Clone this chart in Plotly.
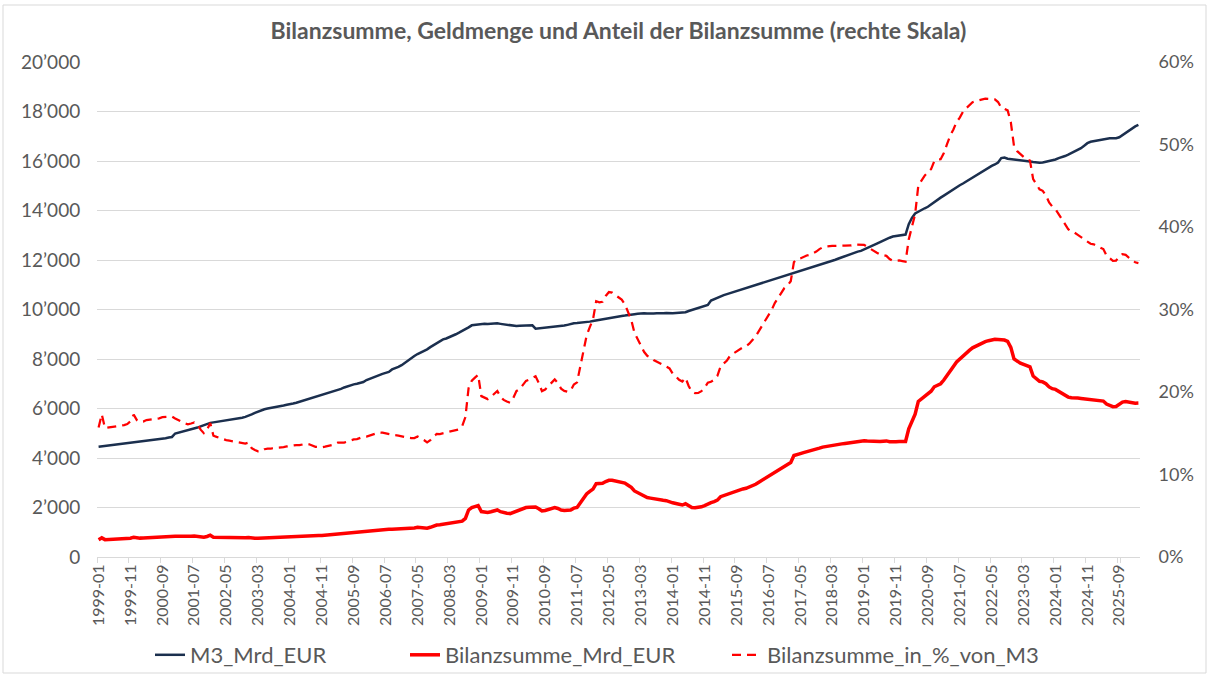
import pandas as pd
import plotly.graph_objects as go

# ---------------- data (monthly, 1999-01 .. 2026-03) ----------------
m3_mrd_eur = [
    4454, 4470, 4490, 4505, 4530, 4550, 4565, 4580, 4595, 4605, 4620, 4635,          # 1999
    4640, 4660, 4690, 4700, 4720, 4740, 4755, 4760, 4780, 4800, 4830, 4850,          # 2000
    4990, 5020, 5060, 5090, 5120, 5160, 5200, 5230, 5280, 5330, 5380, 5420,          # 2001
    5440, 5460, 5480, 5500, 5520, 5530, 5550, 5570, 5600, 5630, 5660, 5700,          # 2002
    5760, 5820, 5880, 5930, 5970, 6000, 6020, 6050, 6080, 6100, 6120, 6150,          # 2003
    6165, 6200, 6230, 6270, 6300, 6330, 6370, 6400, 6440, 6480, 6530, 6580,          # 2004
    6620, 6650, 6700, 6740, 6790, 6850, 6900, 6940, 6975, 7000, 7030, 7070,          # 2005
    7150, 7205, 7250, 7300, 7350, 7400, 7440, 7480, 7580, 7620, 7680, 7750,          # 2006
    7850, 7950, 8054, 8120, 8200, 8260, 8320, 8390, 8480, 8560, 8650, 8720,          # 2007
    8795, 8830, 8880, 8950, 9000, 9065, 9130, 9200, 9280, 9361, 9380, 9400,          # 2008
    9410, 9420, 9410, 9430, 9430, 9440, 9420, 9400, 9390, 9380, 9350, 9333,          # 2009
    9340, 9350, 9370, 9360, 9361, 9227, 9240, 9250, 9260, 9270, 9280, 9290,          # 2010
    9300, 9308, 9350, 9380, 9420, 9440, 9450, 9460, 9480, 9490, 9510, 9535,          # 2011
    9560, 9590, 9620, 9640, 9650, 9672, 9700, 9720, 9740, 9755, 9765, 9790,          # 2012
    9810, 9830, 9846, 9850, 9840, 9830, 9840, 9850, 9840, 9850, 9860, 9845,          # 2013
    9850, 9860, 9870, 9875, 9890, 9939, 9980, 10020, 10060, 10100, 10142, 10180,     # 2014
    10360, 10420, 10480, 10546, 10580, 10620, 10660, 10700, 10740, 10780, 10820, 10860,  # 2015
    10910, 10951, 10990, 11030, 11070, 11110, 11150, 11190, 11230, 11270, 11310, 11350,  # 2016
    11390, 11430, 11470, 11510, 11550, 11590, 11630, 11670, 11710, 11750, 11790, 11830,  # 2017
    11870, 11910, 11962, 12010, 12060, 12110, 12160, 12210, 12260, 12300, 12340, 12368,  # 2018
    12420, 12480, 12540, 12600, 12660, 12720, 12790, 12850, 12900, 12950, 12973, 12990,  # 2019
    12990, 13030, 13450, 13700, 13880, 13960, 14030, 14090, 14150, 14250, 14340, 14420,  # 2020
    14520, 14600, 14690, 14780, 14860, 14940, 15020, 15090, 15170, 15250, 15330, 15420,  # 2021
    15500, 15580, 15660, 15740, 15800, 15860, 15940, 16120, 16140, 16090, 16075, 16070,  # 2022
    16060, 16050, 16040, 16010, 15980, 15960, 15940, 15930, 15940, 15966, 15990, 16010,  # 2023
    16060, 16116, 16150, 16200, 16260, 16320, 16372, 16440, 16520, 16620, 16720, 16777,  # 2024
    16800, 16830, 16860, 16880, 16912, 16915, 16915, 16920, 16960, 17050, 17150, 17220,  # 2025
    17300, 17400, 17460,                                                                 # 2026
]

bilanzsumme_mrd_eur = [
    699, 773, 702, 707, 712, 718, 724, 729, 735, 742, 760, 800,                  # 1999
    770, 763, 770, 780, 785, 790, 795, 800, 810, 815, 820, 826,                  # 2000
    838, 835, 830, 825, 824, 835, 848, 840, 815, 800, 830, 880,                  # 2001
    800, 795, 790, 785, 782, 780, 778, 778, 777, 777, 778, 790,                  # 2002
    760, 755, 753, 760, 780, 788, 790, 800, 805, 810, 815, 824,                  # 2003
    830, 840, 845, 850, 860, 869, 870, 865, 860, 865, 868, 880,                  # 2004
    890, 900, 915, 935, 940, 950, 965, 980, 994, 1000, 1015, 1030,               # 2005
    1044, 1060, 1080, 1095, 1110, 1115, 1115, 1118, 1120, 1125, 1130, 1132,      # 2006
    1140, 1150, 1161, 1170, 1197, 1190, 1180, 1165, 1200, 1250, 1290, 1300,      # 2007
    1320, 1338, 1350, 1370, 1390, 1403, 1450, 1560, 1900, 2000, 2040, 2075,      # 2008
    1835, 1820, 1801, 1830, 1869, 1900, 1830, 1790, 1770, 1754, 1800, 1877,      # 2009
    1900, 1950, 2000, 2012, 2030, 2021, 1950, 1860, 1880, 1920, 1960, 2000,      # 2010
    1960, 1900, 1883, 1880, 1900, 1974, 2000, 2185, 2350, 2546, 2650, 2745,      # 2011
    2964, 2960, 2976, 3050, 3099, 3100, 3080, 3060, 3039, 2988, 2900, 2814,      # 2012
    2668, 2600, 2522, 2450, 2400, 2379, 2350, 2330, 2310, 2290, 2275, 2250,      # 2013
    2190, 2159, 2120, 2100, 2150, 2060, 2000, 1990, 2000, 2030, 2080, 2150,      # 2014
    2200, 2240, 2300, 2436, 2480, 2530, 2601, 2640, 2680, 2720, 2750, 2775,      # 2015
    2820, 2880, 2940, 3020, 3100, 3194, 3280, 3350, 3456, 3540, 3620, 3700,      # 2016
    3750, 3820, 4100, 4155, 4180, 4220, 4250, 4276, 4310, 4350, 4400, 4440,      # 2017
    4467, 4490, 4510, 4530, 4555, 4570, 4590, 4610, 4630, 4660, 4673, 4690,      # 2018
    4700, 4690, 4680, 4670, 4670, 4665, 4680, 4690, 4660, 4650, 4660, 4670,      # 2019
    4660, 4665, 5178, 5500, 5768, 6287, 6400, 6514, 6600, 6700, 6878, 6950,      # 2020
    7000, 7150, 7350, 7550, 7700, 7879, 8000, 8144, 8250, 8350, 8450, 8520,      # 2021
    8580, 8640, 8700, 8740, 8770, 8796, 8790, 8780, 8766, 8710, 8472, 8003,      # 2022
    7900, 7832, 7780, 7714, 7680, 7310, 7205, 7100, 7075, 7000, 6871, 6800,      # 2023
    6772, 6700, 6610, 6520, 6460, 6431, 6436, 6420, 6407, 6390, 6380, 6370,      # 2024
    6367, 6345, 6320, 6300, 6180, 6120, 6072, 6080, 6176, 6260, 6280, 6250,      # 2025
    6230, 6215, 6220,                                                            # 2026
]

months = pd.date_range("1999-01-01", periods=len(m3_mrd_eur), freq="MS").strftime("%Y-%m").tolist()
anteil_pct = [b / m * 100 for b, m in zip(bilanzsumme_mrd_eur, m3_mrd_eur)]

x_tick_labels = months[::10]
left_tick_vals = [0, 2000, 4000, 6000, 8000, 10000, 12000, 14000, 16000, 18000, 20000]
left_tick_text = ["0", "2’000", "4’000", "6’000", "8’000", "10’000",
                  "12’000", "14’000", "16’000", "18’000", "20’000"]
right_tick_vals = [0, 10, 20, 30, 40, 50, 60]
right_tick_text = ["0%", "10%", "20%", "30%", "40%", "50%", "60%"]

title_text = "Bilanzsumme, Geldmenge und Anteil der Bilanzsumme (rechte Skala)"

# ---------------- styling ----------------
W, H = 1210, 677
ML, MR, MT, MB = 97, 70, 62, 120
FONT = "Lato"
GRAY = "#595959"
GRID = "#D9D9D9"
NAVY = "#1B2F4E"
RED = "#FF0000"

fig = go.Figure()
fig.add_trace(go.Scatter(x=months, y=m3_mrd_eur, name="M3_Mrd_EUR", mode="lines",
                         line=dict(color=NAVY, width=2.5), legend="legend"))
fig.add_trace(go.Scatter(x=months, y=bilanzsumme_mrd_eur, name="Bilanzsumme_Mrd_EUR", mode="lines",
                         line=dict(color=RED, width=3.5), legend="legend2"))
fig.add_trace(go.Scatter(x=months, y=anteil_pct, name="Bilanzsumme_in_%_von_M3", mode="lines",
                         line=dict(color=RED, width=2.25, dash="9px,6px"), yaxis="y2", legend="legend3"))

pw = W - ML - MR
ph = H - MT - MB

legend_common = dict(orientation="h", xref="container", yref="container", yanchor="middle",
                     y=1 - 655 / H, xanchor="left", bgcolor="rgba(0,0,0,0)",
                     font=dict(family=FONT, size=22, color=GRAY))

fig.update_layout(
    width=W, height=H,
    margin=dict(l=ML, r=MR, t=MT, b=MB, autoexpand=False),
    paper_bgcolor="white", plot_bgcolor="white",
    font=dict(family=FONT, color=GRAY),
    title=dict(text="<b>" + title_text + "</b>", x=0.5, xanchor="center", xref="paper",
               y=1 - 31 / H, yanchor="middle", yref="container",
               font=dict(family=FONT, size=23, color=GRAY)),
    xaxis=dict(type="category", categoryorder="array", categoryarray=months,
               range=[-0.5, len(months) - 0.5], automargin=False,
               tickmode="array", tickvals=x_tick_labels, ticktext=x_tick_labels,
               tickson="boundaries", tickangle=-90,
               ticks="outside", ticklen=5, tickcolor=GRID, tickwidth=1,
               showline=True, linecolor=GRID, linewidth=1,
               showgrid=False, zeroline=False,
               tickfont=dict(family=FONT, size=16, color=GRAY)),
    yaxis=dict(range=[0, 20000], tickmode="array", tickvals=left_tick_vals, ticktext=left_tick_text,
               automargin=False,
               showgrid=True, gridcolor=GRID, gridwidth=1, zeroline=False, showline=False,
               ticks="outside", ticklen=12, tickcolor="rgba(0,0,0,0)",
               tickfont=dict(family=FONT, size=19, color=GRAY)),
    yaxis2=dict(range=[0, 60], overlaying="y", side="right", automargin=False,
                tickmode="array", tickvals=right_tick_vals, ticktext=right_tick_text,
                showgrid=False, zeroline=False, showline=False,
                ticks="outside", ticklen=14, tickcolor="rgba(0,0,0,0)",
                tickfont=dict(family=FONT, size=18, color=GRAY)),
    legend=dict(legend_common, x=150 / W),
    legend2=dict(legend_common, x=405 / W),
    legend3=dict(legend_common, x=727 / W),
    showlegend=True,
    shapes=[dict(type="rect", xref="paper", yref="paper",
                 x0=(3 - ML) / pw, x1=(W - 4 - ML) / pw,
                 y0=-(H - 4 - (H - MB)) / ph,
                 y1=1 + (MT - 5) / ph,
                 line=dict(color=GRID, width=1), fillcolor="rgba(0,0,0,0)", layer="below")],
)

fig.write_html("out.html", config={"displayModeBar": False},
               post_script="document.body.style.margin='0';document.body.style.overflow='hidden';")
